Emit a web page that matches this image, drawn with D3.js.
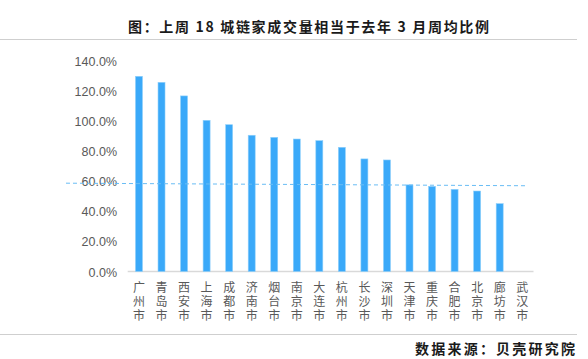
<!DOCTYPE html>
<html><head><meta charset="utf-8">
<script src="https://cdn.jsdelivr.net/npm/d3@7/dist/d3.min.js"></script>
<style>body{margin:0;background:#fff}svg{display:block}</style>
</head><body>
<svg id="c" width="588" height="359"></svg>
<script>
const cities = ["广州市","青岛市","西安市","上海市","成都市","济南市","烟台市","南京市","大连市","杭州市","长沙市","深圳市","天津市","重庆市","合肥市","北京市","廊坊市","武汉市"];
const values = [129.5, 125.5, 116.5, 100.3, 97.4, 90.4, 89.0, 87.9, 86.8, 82.4, 74.7, 74.0, 57.5, 56.5, 54.5, 53.4, 45.0, 0];
const avgLine = [58.6, 56.9];
const yTicks = [0, 20, 40, 60, 80, 100, 120, 140];
const title = "图：上周 18 城链家成交量相当于去年 3 月周均比例";
const source = "数据来源：贝壳研究院";

const svg = d3.select("#c");
const x = d3.scaleBand().domain(cities).range([127.7, 533.5]).paddingInner(0.69).paddingOuter(0.345);
const y = d3.scaleLinear().domain([0, 140]).range([271.5, 60.5]);

// frame lines
svg.append("line").attr("x1", 0).attr("x2", 577).attr("y1", 39.5).attr("y2", 39.5).attr("stroke", "#cfcfcf").attr("stroke-width", 1.2);
svg.append("line").attr("x1", 0).attr("x2", 577).attr("y1", 334.5).attr("y2", 334.5).attr("stroke", "#cfcfcf").attr("stroke-width", 1.2);

svg.append("text").attr("x", 128).attr("y", 32).attr("textLength", 361).attr("lengthAdjust", "spacing")
  .attr("font-family", "'Noto Sans CJK SC'").attr("font-weight", "bold").attr("font-size", 14).attr("fill", "#1a1a1a").text(title);
svg.append("text").attr("x", 415).attr("y", 354).attr("textLength", 160).attr("lengthAdjust", "spacing")
  .attr("font-family", "'Noto Sans CJK SC'").attr("font-weight", "bold").attr("font-size", 14).attr("fill", "#1a1a1a").text(source);

// y axis labels
const yAxis = d3.axisLeft(y).tickValues(yTicks).tickSize(0).tickPadding(0).tickFormat(d => d.toFixed(1) + "%");
const gy = svg.append("g").attr("transform", "translate(117,0)").call(yAxis);
gy.select(".domain").remove();
gy.selectAll("text").attr("font-family", "'Liberation Sans', Arial, sans-serif").attr("font-size", 12.5).attr("fill", "#595959").attr("dy", "0.36em");

// x axis line
svg.append("line").attr("x1", x.range()[0]).attr("x2", x.range()[1]).attr("y1", y(0)).attr("y2", y(0)).attr("stroke", "#d9d9d9").attr("stroke-width", 1.5);

// bars
svg.append("g").selectAll("rect").data(values).join("rect")
  .attr("x", (d, i) => x(cities[i]))
  .attr("width", x.bandwidth())
  .attr("y", d => y(d))
  .attr("height", d => y(0) - y(d))
  .attr("fill", "#3aa9f9")
  .attr("stroke", "#8fd0fb").attr("stroke-width", 0.6);

// dashed reference line
svg.append("line")
  .attr("x1", 66).attr("x2", x(cities[cities.length - 1]) + x.bandwidth())
  .attr("y1", y(avgLine[0])).attr("y2", y(avgLine[1]))
  .attr("stroke", "#69bdf5").attr("stroke-width", 1).attr("stroke-dasharray", "4,3");

// x labels (stacked characters)
const gx = svg.append("g");
cities.forEach((c, i) => {
  const cx = x(c) + x.bandwidth() / 2;
  [...c].forEach((ch, j) => {
    gx.append("text").attr("x", cx).attr("y", 292 + j * 14).attr("text-anchor", "middle")
      .attr("font-family", "'Liberation Sans', 'Noto Sans CJK SC'").attr("font-size", 12).attr("fill", "#595959").text(ch);
  });
});
</script>
</body></html>
